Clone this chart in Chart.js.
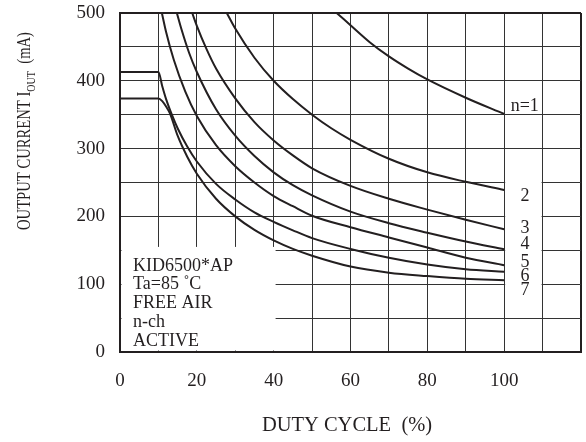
<!DOCTYPE html>
<html><head><meta charset="utf-8">
<script src="https://cdn.jsdelivr.net/npm/chart.js@4.4.0/dist/chart.umd.min.js"></script>
<style>html,body{margin:0;padding:0;background:#fff}</style>
</head><body>
<canvas id="c" width="586" height="442"></canvas>
<script>
// ---- data ----
const xTickLabels = [0, 20, 40, 60, 80, 100];
const yTickLabels = [0, 100, 200, 300, 400, 500];
const curveNames = ['n=1', '2', '3', '4', '5', '6', '7'];

const n1x = [56.4, 60, 65, 70, 75, 80, 90, 100];
const n1y = [500, 482, 457, 436, 418, 402, 375, 351];
const n2x = [27.8, 30, 35, 40, 45, 50, 55, 60, 70, 80, 90, 100];
const n2y = [500, 477, 434, 400, 373, 350, 330, 313, 285, 265, 251, 239];
const n3x = [18.8, 20, 22.5, 25, 30, 35, 40, 45, 50, 60, 70, 80, 90, 100];
const n3y = [500, 481, 447, 418, 374, 339, 312, 290, 271, 245, 226, 210, 195, 181];
const n4x = [14.8, 16, 18, 20, 25, 30, 35, 40, 45, 50, 60, 70, 80, 90, 100];
const n4y = [500, 476, 441, 413, 358, 319, 289, 265, 246, 231, 207, 190, 176, 163, 151.5];
const n5x = [10.9, 12, 14, 17, 20, 25, 30, 35, 40, 45, 50, 60, 70, 80, 90, 100];
const n5y = [500, 472, 431, 384, 348, 305, 274, 250, 230, 215, 201, 184, 169, 154, 139, 128];
const n6x = [0, 10, 11, 12, 13.5, 15, 17.5, 20, 25, 30, 35, 40, 45, 50, 60, 70, 80, 90, 100];
const n6y = [413, 413, 392, 373, 350, 330, 303, 281, 248, 225, 206, 192, 179.5, 168, 152, 139, 129, 122, 118.5];
const n7x = [0, 10, 11, 12, 13, 15, 17.5, 20, 25, 30, 35, 40, 45, 50, 60, 70, 80, 90, 100];
const n7y = [374, 374, 370, 362, 352, 319, 288, 263, 226, 200, 180, 164.5, 152, 142, 126, 117, 112, 108, 106];

const curvesX = [n1x, n2x, n3x, n4x, n5x, n6x, n7x];
const curvesY = [n1y, n2y, n3y, n4y, n5y, n6y, n7y];

const INK = '#231f20';
const FONT = "'Liberation Serif', 'Times New Roman', serif";

const datasets = curvesX.map((xs, i) => ({
  label: curveNames[i],
  data: xs.map((x, j) => ({ x: x, y: curvesY[i][j] })),
  borderColor: INK,
  borderWidth: 2,
  pointRadius: 0,
  fill: false,
  cubicInterpolationMode: 'monotone'
}));

const overlay = {
  id: 'overlay',
  beforeDatasetsDraw(chart) {
    const { ctx, scales: { x, y } } = chart;
    ctx.save();
    ctx.fillStyle = '#fff';
    let l = x.getPixelForValue(0) + 1.5, r = x.getPixelForValue(40.5);
    let t = y.getPixelForValue(155), b = y.getPixelForValue(0) - 1.5;
    ctx.fillRect(l, t, r - l, b - t);
    l = x.getPixelForValue(100) + 1; r = x.getPixelForValue(110) - 1;
    t = y.getPixelForValue(285); b = y.getPixelForValue(75);
    ctx.fillRect(l, t, r - l, b - t);
    ctx.restore();
  },
  afterDraw(chart) {
    const { ctx, chartArea: ca, scales: { x, y } } = chart;
    ctx.save();
    ctx.fillStyle = INK;
    ctx.font = '18px ' + FONT;
    ctx.textAlign = 'left';
    ctx.textBaseline = 'alphabetic';
    const lines = ['KID6500*AP', 'Ta=85 \u02DAC', 'FREE AIR', 'n-ch', 'ACTIVE'];
    lines.forEach((s, i) => ctx.fillText(s, ca.left + 13, ca.bottom - 6.5 - (lines.length - 1 - i) * 18.7));
    ctx.textBaseline = 'middle';
    ctx.fillText(curveNames[0], x.getPixelForValue(101.7), y.getPixelForValue(363));
    ctx.textAlign = 'center';
    const ly = [230, 183, 159, 133, 111, 91.5];
    for (let i = 1; i < curveNames.length; i++) {
      ctx.fillText(curveNames[i], x.getPixelForValue(105.4), y.getPixelForValue(ly[i - 1]));
    }
    ctx.font = '20.5px ' + FONT;
    ctx.textAlign = 'center';
    ctx.textBaseline = 'alphabetic';
    ctx.fillText('DUTY CYCLE  (%)', 347, 431);
    // y title with subscript, slightly condensed
    ctx.translate(29.5, 131);
    ctx.rotate(-Math.PI / 2);
    const mainF = '19px ' + FONT, subF = '13px ' + FONT;
    ctx.font = mainF; const w1 = ctx.measureText('OUTPUT CURRENT I').width;
    ctx.font = subF; const w2 = ctx.measureText('OUT').width;
    ctx.font = mainF; const w3 = ctx.measureText('  (mA)').width;
    const k = 198 / (w1 + w2 + w3);
    ctx.scale(k, 1);
    let sx = -(w1 + w2 + w3) / 2;
    ctx.textAlign = 'left';
    ctx.font = mainF; ctx.fillText('OUTPUT CURRENT I', sx, 0); sx += w1;
    ctx.font = subF; ctx.fillText('OUT', sx, 5); sx += w2;
    ctx.font = mainF; ctx.fillText('  (mA)', sx, 0);
    ctx.restore();
  }
};

new Chart(document.getElementById('c'), {
  type: 'line',
  data: { datasets },
  options: {
    responsive: false,
    animation: false,
    devicePixelRatio: 1,
    layout: { padding: { top: 13, right: 5, left: 0, bottom: 0 } },
    plugins: { legend: { display: false }, tooltip: { enabled: false } },
    scales: {
      x: {
        type: 'linear', min: 0, max: 120,
        afterFit: s => { s.height = 90; s.paddingLeft = 0; s.paddingRight = 0; },
        border: { color: INK, width: 2 },
        grid: {
          drawTicks: false,
          color: c => (c.tick && c.tick.value === 120) ? INK : '#333',
          lineWidth: c => (c.tick && c.tick.value === 120) ? 2 : 1
        },
        ticks: {
          stepSize: 10, autoSkip: false, maxRotation: 0, padding: 18,
          color: INK, font: { family: FONT, size: 19 },
          callback: v => xTickLabels.includes(v) ? String(v) : ''
        }
      },
      y: {
        type: 'linear', min: 0, max: 500,
        afterFit: s => { s.width = 120; s.paddingTop = 0; s.paddingBottom = 0; },
        border: { color: INK, width: 2 },
        grid: {
          drawTicks: false,
          color: c => (c.tick && c.tick.value === 500) ? INK : '#333',
          lineWidth: c => (c.tick && c.tick.value === 500) ? 2 : 1
        },
        ticks: {
          stepSize: 50, autoSkip: false, padding: 15,
          color: INK, font: { family: FONT, size: 19 },
          callback: v => yTickLabels.includes(v) ? String(v) : ''
        }
      }
    }
  },
  plugins: [overlay]
});
</script>
</body></html>
